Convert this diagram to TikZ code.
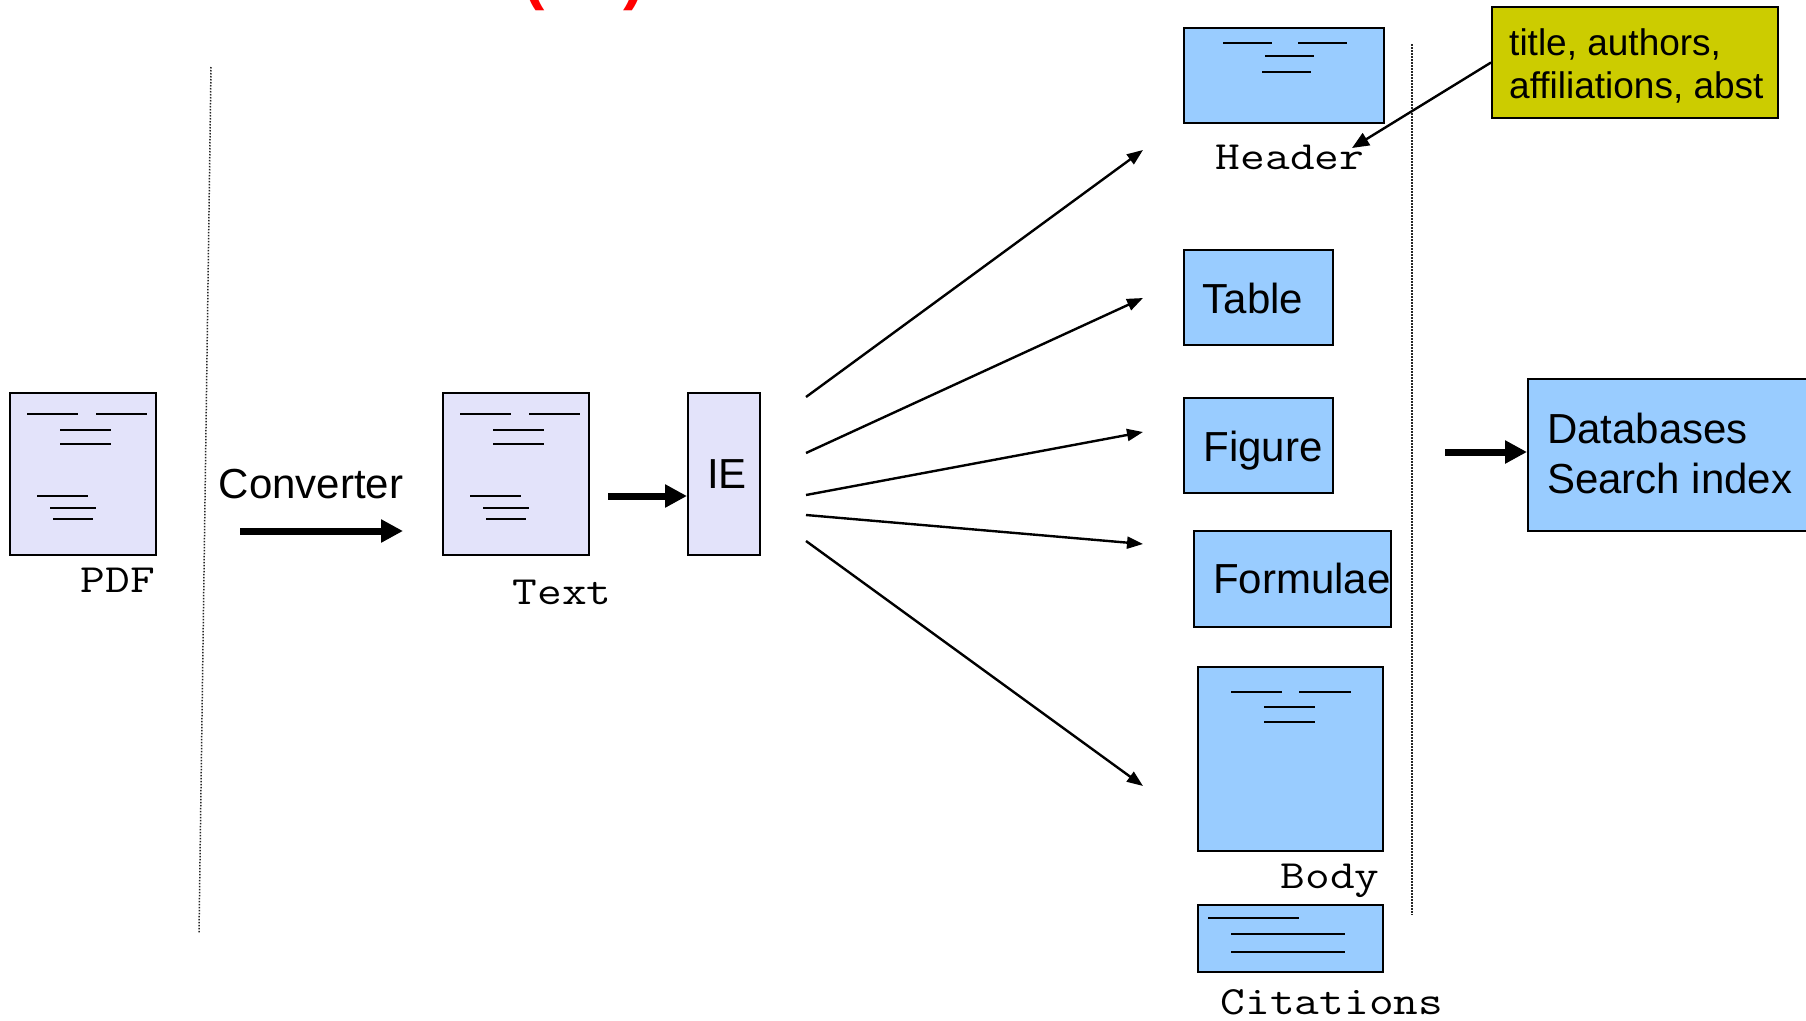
\documentclass[tikz,border=0pt]{standalone}
\usepackage{fontspec}
\usepackage{graphicx}
\setmainfont{Liberation Sans}
\usetikzlibrary{arrows.meta,calc}
\definecolor{lav}{RGB}{227,227,250}
\definecolor{skyb}{RGB}{153,204,255}
\definecolor{olivey}{RGB}{204,204,0}
\newcommand\cour[1]{\scalebox{1.2}[1]{#1}}
\tikzset{
  lavbox/.style={draw=black, line width=2pt, fill=lav, inner sep=0pt, anchor=north west},
  bluebox/.style={draw=black, line width=2pt, fill=skyb, inner sep=0pt, anchor=north west},
  sanslbl/.style={font=\fontsize{42}{48}\selectfont, inner sep=0pt, anchor=base},
  monolbl/.style={font=\ttfamily\fontsize{40}{48}\selectfont, inner sep=0pt, anchor=base},
  yellbl/.style={font=\fontsize{37}{43}\selectfont, inner sep=0pt, anchor=base west},
  txtline/.style={line width=2pt},
  bigarrow/.style={line width=7pt, -{Triangle[length=22pt,width=22pt]}},
  fanarrow/.style={line width=2.4pt, -{Triangle[length=16pt,width=12pt]}},
  sepline/.style={line width=1.5pt, dash pattern=on 1.5pt off 1.5pt, black!85},
}
\newcommand\pagelns[1]{%
  \draw[txtline] ($(#1.north west)+(18,22)$) -- +(51,0);
  \draw[txtline] ($(#1.north west)+(87,22)$) -- +(51,0);
  \draw[txtline] ($(#1.north west)+(51,38)$) -- +(51,0);
  \draw[txtline] ($(#1.north west)+(51,52)$) -- +(51,0);
  \draw[txtline] ($(#1.north west)+(28,104)$) -- +(51,0);
  \draw[txtline] ($(#1.north west)+(41,116)$) -- +(46,0);
  \draw[txtline] ($(#1.north west)+(44,127)$) -- +(40,0);
}
\begin{document}
\begin{tikzpicture}[x=1pt,y=-1pt]
\useasboundingbox (0,0) rectangle (1806,1020);
\fill[white] (0,0) rectangle (1806,1020);

% red heading (only its lower edge is visible)
\node[red, font=\bfseries\fontsize{64}{64}\selectfont, inner sep=0pt, anchor=base west] (redhead) at (523,-3) {(\hspace{79pt})};

% separators
\draw[sepline] (211,67) -- (199,933);
\draw[sepline] (1412,44) -- (1412,915);

% PDF page
\node[lavbox, minimum width=146pt, minimum height=162pt] (pdf) at (9,392) {};
\pagelns{pdf}
\node[monolbl] (pdfT) at (118,592) {\cour{PDF}};

% converter
\node[sanslbl] (conv) at (311,498) {Converter};
\coordinate (convS) at (240,531);
\coordinate (convE) at (403,531);
\draw[bigarrow] (convS) -- (convE);

% Text page
\node[lavbox, minimum width=146pt, minimum height=162pt] (txt) at (442,392) {};
\pagelns{txt}
\node[monolbl] (txtT) at (562,604) {\cour{Text}};

% IE
\node[lavbox, minimum width=72pt, minimum height=162pt] (ie) at (687,392) {};
\node[sanslbl] (ieT) at (727,488) {IE};
\coordinate (tie) at (608,496);
\draw[bigarrow] (tie) -- (ie.west |- tie);

% fan arrows
\coordinate (f1s) at (806,397); \coordinate (f1e) at (1143,150);
\coordinate (f2s) at (806,453); \coordinate (f2e) at (1143,298);
\coordinate (f3s) at (806,495); \coordinate (f3e) at (1143,432);
\coordinate (f4s) at (806,515); \coordinate (f4e) at (1143,544);
\coordinate (f5s) at (806,541); \coordinate (f5e) at (1143,786);
\draw[fanarrow] (f1s) -- (f1e);
\draw[fanarrow] (f2s) -- (f2e);
\draw[fanarrow] (f3s) -- (f3e);
\draw[fanarrow] (f4s) -- (f4e);
\draw[fanarrow] (f5s) -- (f5e);

% Header
\node[bluebox, minimum width=200pt, minimum height=95pt] (hdr) at (1183,27) {};
\draw[txtline] ($(hdr.north west)+(40,16)$) -- +(49,0);
\draw[txtline] ($(hdr.north west)+(115,16)$) -- +(49,0);
\draw[txtline] ($(hdr.north west)+(82,29)$) -- +(49,0);
\draw[txtline] ($(hdr.north west)+(79,45)$) -- +(49,0);
\node[monolbl] (hdrT) at (1290,169) {\cour{Header}};

% yellow note
\node[draw=black, line width=2pt, fill=olivey, inner sep=0pt, anchor=north west,
      minimum width=286pt, minimum height=111pt] (note) at (1491,6) {};
\node[yellbl] (note1) at (1509,55) {title, authors,};
\node[yellbl] (note2) at (1509,98) {affiliations, abst};
\coordinate (hdrTip) at (1352,148);
\draw[line width=2.4pt, -{Triangle[length=17pt,width=14pt]}] (note.west) -- (hdrTip);

% Table, Figure, Formulae
\node[bluebox, minimum width=149pt, minimum height=95pt] (tab) at (1183,249) {};
\node[sanslbl] (tabT) at (1253,313) {Table};
\node[bluebox, minimum width=149pt, minimum height=95pt] (fig) at (1183,397) {};
\node[sanslbl] (figT) at (1263,461) {Figure};
\node[bluebox, minimum width=197pt, minimum height=96pt] (form) at (1193,530) {};
\node[sanslbl, anchor=base west] (formT) at (1213,593) {Formulae};

% Body
\node[bluebox, minimum width=185pt, minimum height=184pt] (body) at (1197,666) {};
\draw[txtline] ($(body.north west)+(34,26)$) -- +(51,0);
\draw[txtline] ($(body.north west)+(102,26)$) -- +(52,0);
\draw[txtline] ($(body.north west)+(67,41)$) -- +(51,0);
\draw[txtline] ($(body.north west)+(67,56)$) -- +(51,0);
\node[monolbl] (bodyT) at (1330,888) {\cour{Body}};

% Citations
\node[bluebox, minimum width=185pt, minimum height=67pt] (cit) at (1197,904) {};
\draw[txtline] ($(cit.north west)+(11,14)$) -- +(91,0);
\draw[txtline] ($(cit.north west)+(34,30)$) -- +(114,0);
\draw[txtline] ($(cit.north west)+(34,48)$) -- +(114,0);
\node[monolbl] (citT) at (1332,1014) {\cour{Citations}};

% Databases
\node[bluebox, minimum width=330pt, minimum height=152pt] (db) at (1527,378) {};
\node[sanslbl, anchor=base west] (db1) at (1547,443) {Databases};
\node[sanslbl, anchor=base west] (db2) at (1547,493) {Search index};
\coordinate (dbS) at (1445,452);
\draw[bigarrow] (dbS) -- (db.west |- dbS);
\end{tikzpicture}
\end{document}
